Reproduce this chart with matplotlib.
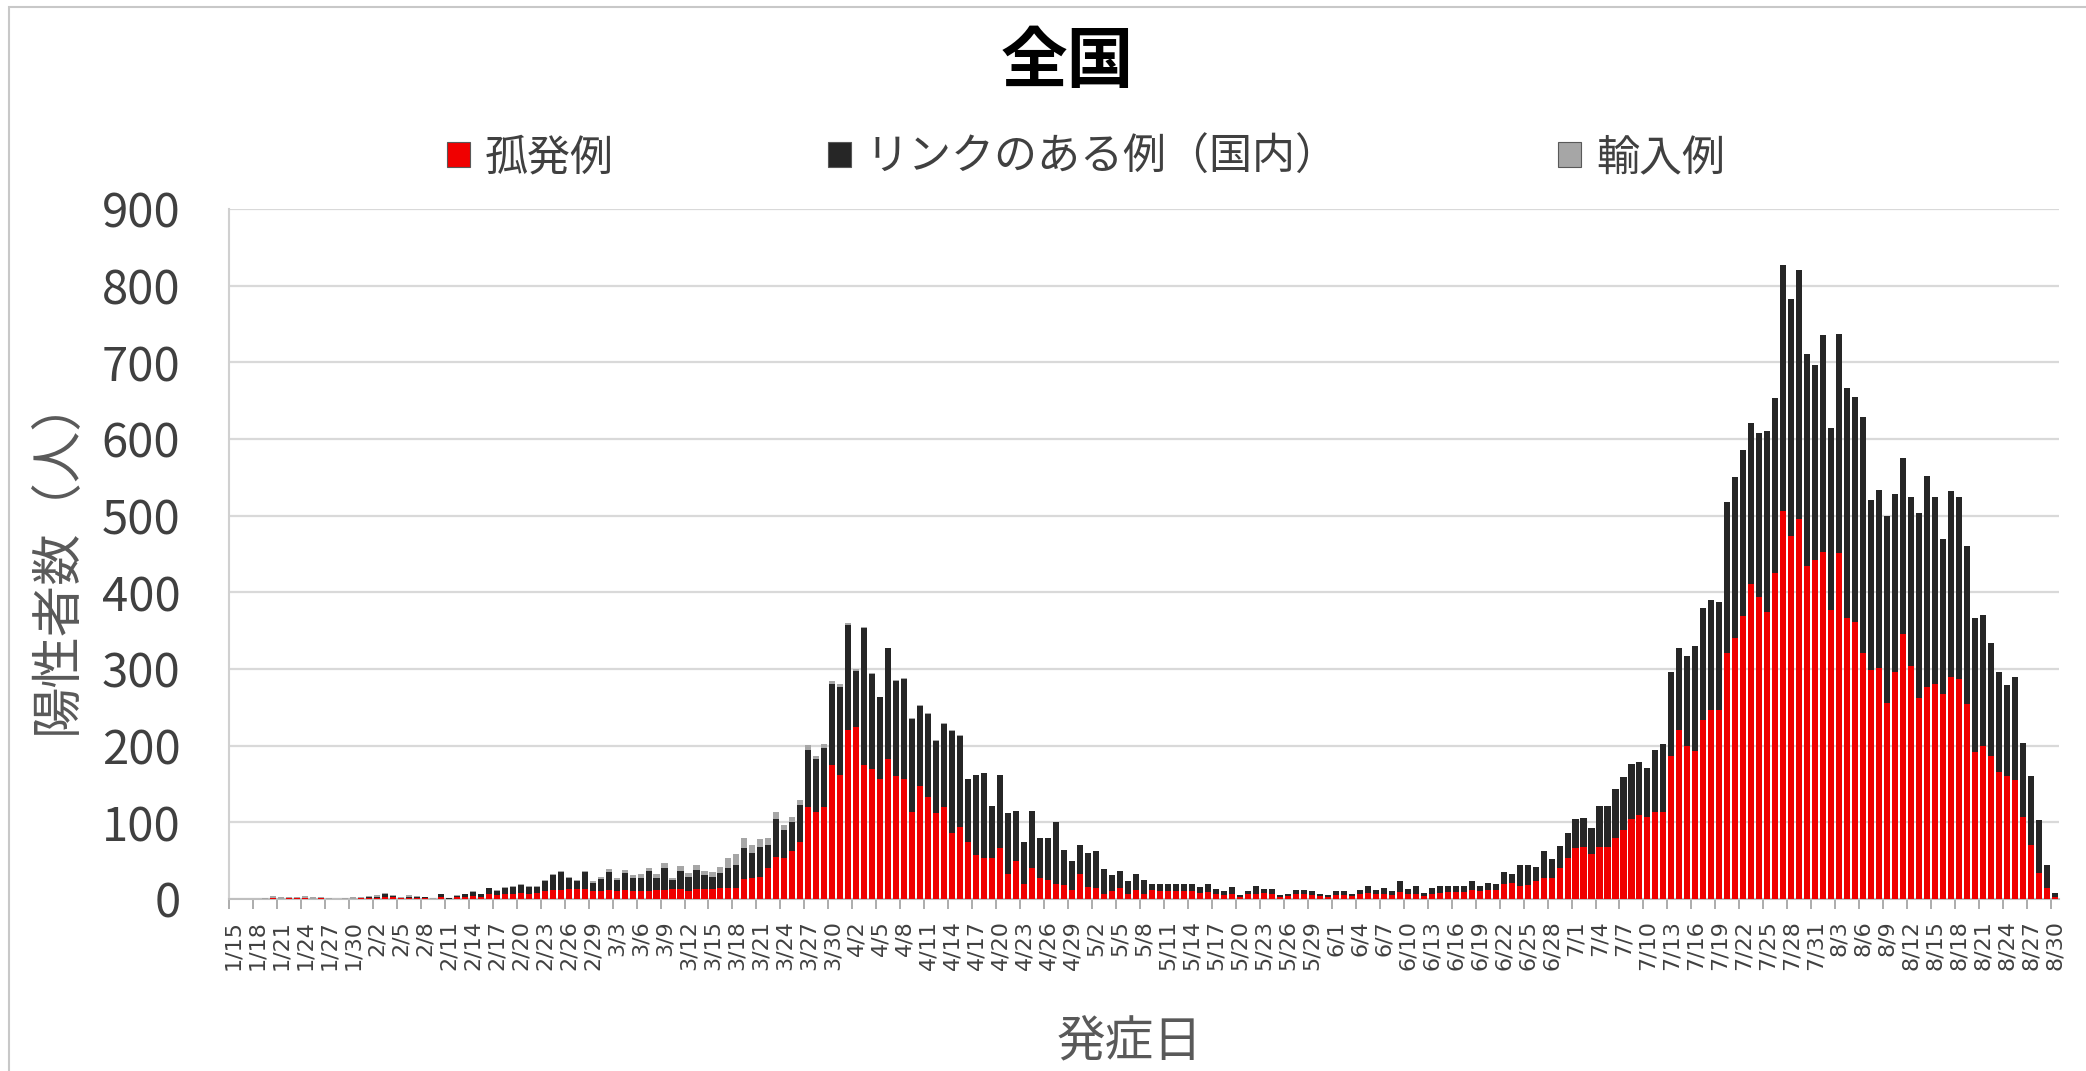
import matplotlib.pyplot as plt
from matplotlib.patches import Patch, Rectangle
import numpy as np
import pandas as pd

plt.rcParams['font.family'] = ['Noto Sans CJK JP', 'DejaVu Sans']

# onset dates 1/15 - 8/30
dates = pd.date_range('2020-01-15', '2020-08-30', freq='D')
date_labels = [f'{d.month}/{d.day}' for d in dates]

# 孤発例 (red)
sporadic = [
    0, 0, 0, 0, 0, 1, 0, 1, 1, 1,
    0, 1, 0, 0, 0, 0, 1, 1, 1, 3,
    2, 1, 1, 1, 1, 0, 3, 0, 2, 3,
    4, 3, 6, 5, 7, 6, 8, 7, 8, 10,
    12, 12, 13, 13, 13, 11, 10, 12, 11, 12,
    10, 10, 11, 12, 12, 13, 13, 10, 13, 13,
    13, 14, 14, 14, 26, 27, 29, 40, 55, 53,
    62, 75, 120, 114, 120, 175, 162, 220, 225, 175,
    170, 157, 183, 160, 157, 114, 147, 133, 112, 120,
    86, 94, 75, 57, 53, 53, 66, 33, 49, 20,
    40, 27, 25, 20, 18, 12, 33, 16, 14, 7,
    10, 14, 7, 12, 7, 12, 10, 10, 10, 10,
    10, 8, 9, 7, 5, 6, 3, 6, 7, 8,
    6, 3, 4, 6, 7, 5, 4, 3, 5, 5,
    4, 6, 8, 6, 6, 5, 9, 6, 7, 4,
    6, 8, 9, 9, 9, 12, 10, 12, 12, 20,
    21, 17, 18, 23, 27, 28, 41, 54, 66, 68,
    59, 68, 68, 79, 90, 104, 110, 107, 113, 113,
    186, 220, 200, 193, 234, 246, 246, 321, 341, 369,
    411, 394, 375, 425, 506, 473, 496, 434, 442, 452,
    377, 451, 366, 361, 321, 299, 301, 256, 296, 346,
    304, 262, 276, 281, 268, 290, 287, 254, 192, 200,
    186, 166, 161, 155, 107, 70, 34, 14, 3,
]

# リンクのある例（国内） (dark)
linked = [
    0, 0, 0, 0, 0, 0, 0, 0, 0, 0,
    0, 0, 0, 0, 0, 0, 0, 1, 2, 3,
    2, 0, 2, 2, 1, 0, 3, 1, 2, 3,
    5, 3, 8, 6, 8, 10, 10, 9, 8, 14,
    19, 23, 15, 10, 22, 10, 16, 23, 14, 22,
    17, 18, 25, 16, 29, 12, 24, 19, 25, 18,
    16, 20, 27, 30, 40, 33, 39, 31, 50, 37,
    38, 48, 75, 69, 77, 106, 115, 137, 73, 178,
    123, 106, 144, 125, 130, 121, 105, 108, 94, 108,
    133, 119, 82, 105, 111, 68, 96, 79, 66, 55,
    75, 53, 55, 80, 46, 38, 38, 44, 48, 32,
    21, 22, 17, 21, 18, 8, 10, 10, 10, 10,
    10, 8, 10, 6, 5, 10, 2, 5, 10, 5,
    7, 2, 3, 6, 5, 5, 3, 2, 6, 5,
    3, 6, 9, 6, 8, 6, 14, 7, 10, 4,
    8, 9, 8, 8, 8, 12, 7, 9, 7, 15,
    12, 28, 26, 19, 35, 24, 28, 32, 39, 38,
    33, 53, 53, 65, 69, 72, 69, 64, 81, 89,
    110, 107, 117, 137, 146, 144, 142, 197, 210, 217,
    210, 214, 235, 229, 321, 310, 324, 277, 255, 284,
    237, 286, 300, 294, 308, 222, 232, 244, 232, 229,
    220, 241, 276, 243, 201, 242, 237, 206, 174, 170,
    148, 130, 118, 134, 97, 91, 69, 30, 5,
]

# 輸入例 (gray)
imported = [
    0, 0, 0, 0, 1, 3, 2, 1, 2, 3,
    2, 1, 1, 0, 1, 2, 2, 2, 2, 2,
    1, 1, 2, 1, 1, 1, 1, 0, 1, 1,
    1, 1, 1, 1, 1, 1, 1, 1, 1, 1,
    2, 2, 1, 2, 2, 2, 3, 4, 3, 4,
    4, 5, 5, 4, 6, 3, 6, 5, 6, 5,
    6, 8, 12, 15, 14, 10, 10, 8, 8, 7,
    7, 6, 6, 4, 5, 4, 3, 3, 2, 2,
    2, 1, 1, 1, 1, 1, 1, 1, 1, 1,
    1, 1, 0, 0, 0, 0, 0, 0, 0, 0,
] + [0] * 129

red = '#F00000'
dark = '#262626'
gray = '#A6A6A6'
txt = '#404040'

x = np.arange(len(dates))
sp = np.array(sporadic)
lk = np.array(linked)
im = np.array(imported)

fig = plt.figure(figsize=(20.86, 10.71), dpi=100)
ax = fig.add_axes([229 / 2086, 1 - 899 / 1071, 1830 / 2086, 690 / 1071])

ax.bar(x, sp, width=0.76, color=red, zorder=3)
ax.bar(x, lk, width=0.76, bottom=sp, color=dark, zorder=3)
ax.bar(x, im, width=0.76, bottom=sp + lk, color=gray, zorder=3)

ax.set_xlim(-0.5, len(x) - 0.5)
ax.set_ylim(0, 900)
ax.set_yticks(range(0, 901, 100))
ax.tick_params(axis='y', length=0, pad=35, labelsize=34, labelcolor=txt)
ax.grid(axis='y', color='#D9D9D9', linewidth=1.6, zorder=0)

# date labels every 3 days; DejaVu keeps the rotated labels from touching
ax.set_xticks(x[::3])
ax.set_xticklabels(date_labels[::3], rotation=90, fontsize=16, color=txt,
                   family='DejaVu Sans')
ax.tick_params(axis='x', which='major', length=0, pad=15)
ax.set_xticks(np.arange(-0.5, len(x), 3), minor=True)
ax.tick_params(axis='x', which='minor', length=7, width=1.3, color='#A6A6A6')

for s in ['top', 'right']:
    ax.spines[s].set_visible(False)
ax.spines['left'].set_color('#D0D0D0')
ax.spines['bottom'].set_color('#BFBFBF')
ax.spines['left'].set_linewidth(1.5)
ax.spines['bottom'].set_linewidth(1.5)

ax.set_ylabel('陽性者数（人）', fontsize=37, color='#595959', va='center')
ax.yaxis.set_label_coords(-0.094, 0.50)
ax.set_xlabel('発症日', fontsize=35, color='#595959', va='top')
ax.xaxis.set_label_coords(0.492, -0.1725)

fig.text(1067 / 2086, 1 - 63 / 1071, '全国', ha='center', va='center',
         fontsize=48, fontweight='bold', color='black')

# legend, three entries spread along the top
entries = [('孤発例', red, 447), ('リンクのある例（国内）', dark, 828), ('輸入例', gray, 1558)]
for label, col, px in entries:
    fig.legend(handles=[Patch(facecolor=col, edgecolor='#595959', linewidth=0.8)],
               labels=[label], loc='center left',
               bbox_to_anchor=(px / 2086, 1 - 158 / 1071), frameon=False,
               fontsize=31, labelcolor=txt, handlelength=0.53, handleheight=0.53,
               handletextpad=0.35, borderpad=0, borderaxespad=0)

# chart area frame (right and bottom edges run off the picture)
fig.patches.append(Rectangle((9 / 2086, -0.02), 1.05, 1.02 - 7 / 1071,
                             transform=fig.transFigure, fill=False,
                             edgecolor='#C8C8C8', linewidth=1.5))

fig.savefig('out.png', dpi=100)
